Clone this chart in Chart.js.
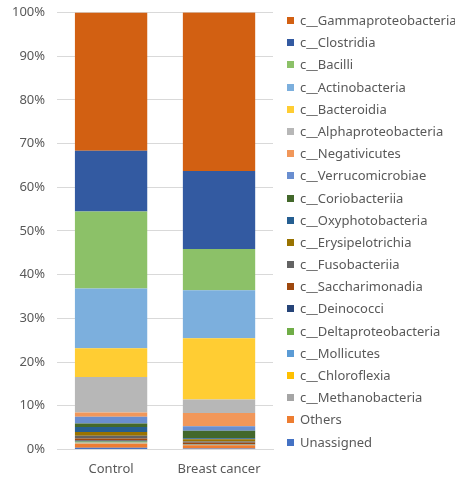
<!DOCTYPE html>
<html>
<head>
<meta charset="utf-8">
<script src="https://cdn.jsdelivr.net/npm/chart.js"></script>
<style>
  html, body { margin: 0; padding: 0; background: #fff; }
  #wrap { position: relative; width: 455px; height: 481px; overflow: hidden; }
  #taxaChart { position: absolute; left: 0; top: -6px; }
  #legend { position: absolute; left: 287px; top: 9px; margin: 0; padding: 0; list-style: none;
            font-family: 'Noto Sans', 'Open Sans', sans-serif; font-size: 13px; color: #595959; }
  #legend li { height: 22.2px; line-height: 22.2px; white-space: nowrap; }
  #legend span.box { display: inline-block; width: 7px; height: 7px; margin-right: 6px; vertical-align: 1px; }
</style>
</head>
<body>
<div id="wrap">
  <canvas id="taxaChart" width="455" height="487"></canvas>
  <ul id="legend"></ul>
</div>
<script>
// groups on the x axis
var groups = ['Control', 'Breast cancer'];

// taxa, bottom of the stack first
var taxa = [
  'Unassigned', 'Others', 'c__Methanobacteria', 'c__Chloroflexia', 'c__Mollicutes',
  'c__Deltaproteobacteria', 'c__Deinococci', 'c__Saccharimonadia', 'c__Fusobacteriia',
  'c__Erysipelotrichia', 'c__Oxyphotobacteria', 'c__Coriobacteriia', 'c__Verrucomicrobiae',
  'c__Negativicutes', 'c__Alphaproteobacteria', 'c__Bacteroidia', 'c__Actinobacteria',
  'c__Bacilli', 'c__Clostridia', 'c__Gammaproteobacteria'
];

// relative abundance (%) per taxon, same order as taxa
var controlPct = [0.4, 0.9, 0.1, 0.15, 0.1, 0.15, 0.25, 0.45, 0.6, 0.9, 1.15, 0.8, 1.5, 1.0, 8.1, 6.6, 13.7, 17.6, 13.9, 31.65];
var cancerPct  = [0.2, 0.75, 0.05, 0.05, 0.05, 0.05, 0.1, 0.25, 0.3, 0.5, 0.25, 1.7, 1.05, 3.05, 3.05, 14.05, 11.0, 9.4, 17.9, 36.3];

var colors = [
  '#4472C4', '#ED7D31', '#A5A5A5', '#FFC000', '#5B9BD5', '#70AD47',
  '#264478', '#9E480E', '#636363', '#997300', '#255E91', '#43682B',
  '#698ED0', '#F1975A', '#B7B7B7', '#FFCD33', '#7CAFDD', '#8CC168',
  '#335AA1', '#D26012'
];

var yTicks = [0, 10, 20, 30, 40, 50, 60, 70, 80, 90, 100];

var datasets = taxa.map(function(name, i) {
  return {
    label: name,
    data: [controlPct[i], cancerPct[i]],
    backgroundColor: colors[i],
    borderWidth: 0,
    barPercentage: 0.67,
    categoryPercentage: 1.0
  };
});

var textColor = '#595959';
var fontFamily = "'Noto Sans', 'Open Sans', sans-serif";

var ctx = document.getElementById('taxaChart').getContext('2d');
var chart = new Chart(ctx, {
  type: 'bar',
  data: { labels: groups, datasets: datasets },
  options: {
    responsive: false,
    animation: false,
    devicePixelRatio: 1,
    layout: { padding: { top: 0, right: 182, left: 0, bottom: 0 } },
    plugins: {
      legend: { display: false },
      tooltip: { enabled: false }
    },
    scales: {
      x: {
        stacked: true,
        grid: { display: false },
        border: { display: true, color: '#D9D9D9', width: 1 },
        ticks: { color: textColor, font: { family: fontFamily, size: 13 }, padding: 4 }
      },
      y: {
        stacked: true,
        min: 0,
        max: 100,
        afterBuildTicks: function(axis) {
          axis.ticks = yTicks.map(function(v) { return { value: v }; });
        },
        grid: { color: '#D9D9D9', drawTicks: false },
        border: { display: false },
        ticks: {
          color: textColor,
          font: { family: fontFamily, size: 13, lineHeight: 1 },
          padding: 12,
          callback: function(v) { return v + '%'; }
        }
      }
    }
  }
});

// legend list, top of the stack first
var ul = document.getElementById('legend');
for (var i = taxa.length - 1; i >= 0; i--) {
  var li = document.createElement('li');
  var box = document.createElement('span');
  box.className = 'box';
  box.style.background = colors[i];
  li.appendChild(box);
  li.appendChild(document.createTextNode(taxa[i]));
  ul.appendChild(li);
}
</script>
</body>
</html>
